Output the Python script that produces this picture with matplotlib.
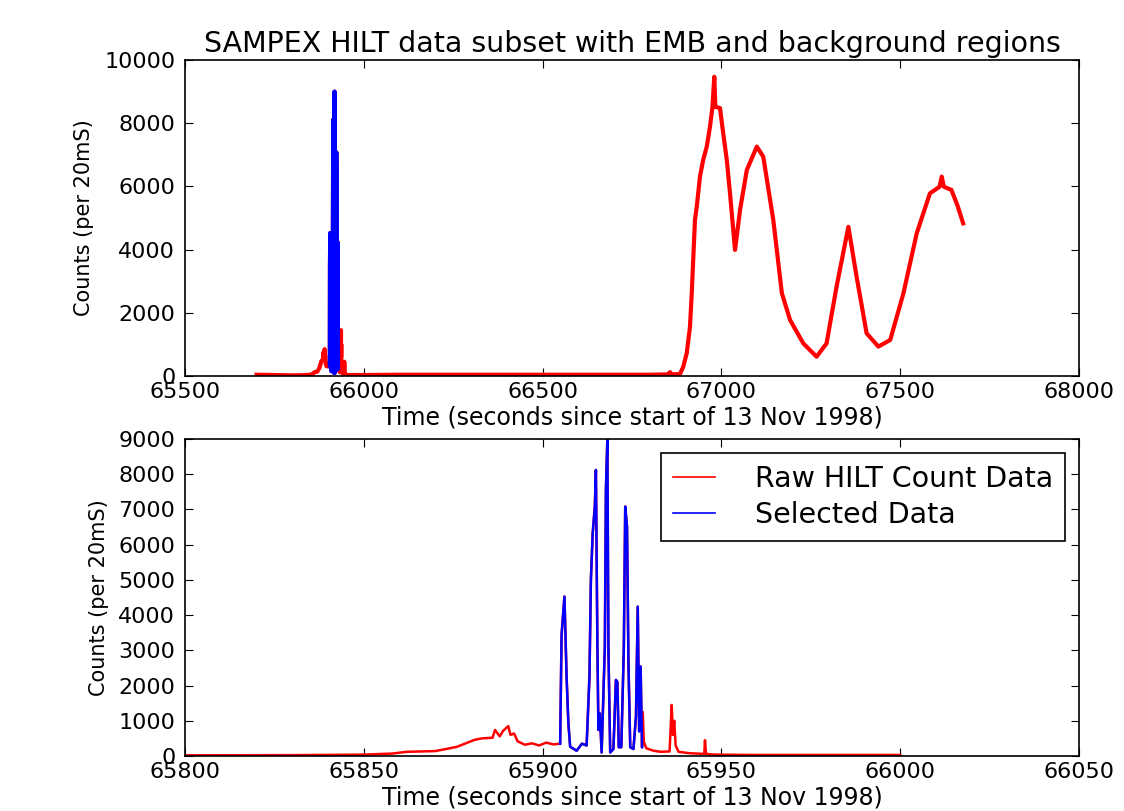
import numpy as np
import matplotlib
matplotlib.use('Agg')
import matplotlib.pyplot as plt

# raw HILT counts before the selected EMB window
pre_t = [65700, 65750, 65800, 65830, 65850, 65858, 65862, 65870, 65876, 65879,
         65881, 65883, 65886, 65886.7, 65888, 65889, 65890.4, 65891, 65892, 65893,
         65895, 65897, 65899, 65901, 65903, 65904.9]
pre_c = [40, 30, 20, 25, 40, 70, 120, 140, 260, 380,
         460, 500, 520, 740, 560, 720, 850, 600, 640, 420,
         320, 360, 300, 380, 330, 350]

# selected data (EMB region)
sel_t = [65904.9, 65905.3, 65906.1, 65906.7, 65907.2, 65907.7, 65909.5, 65911, 65912.3,
         65913.1, 65913.5, 65914.0, 65914.6, 65914.9, 65915.3, 65915.6, 65916.0, 65916.5,
         65917.4, 65917.7, 65918.1, 65918.4, 65918.9, 65919.8, 65920.5, 65920.9, 65921.3,
         65922.0, 65922.7, 65923.1, 65923.6, 65924.0, 65924.5, 65925.4, 65926.1, 65926.6,
         65927.0, 65927.4, 65927.8]
sel_c = [350, 3435, 4525, 2250, 930, 265, 150, 350, 300,
         2250, 5000, 6320, 7080, 8120, 3290, 740, 1210, 100,
         3100, 7550, 9000, 3010, 100, 200, 2160, 2100, 250,
         250, 3010, 7080, 6510, 2630, 250, 200, 1120, 4240,
         700, 2540, 250]

# raw HILT counts after the selected window
post_t = [65928.0, 65928.3, 65929, 65931, 65933, 65935.5, 65936.1, 65936.4, 65936.8,
          65937.2, 65938, 65941, 65945.2, 65945.4, 65945.7, 65948, 65960, 66000,
          66100, 66500, 66800, 66850, 66856, 66862, 66884,
          66893, 66903, 66912, 66917, 66921, 66926, 66931, 66940, 66949, 66959,
          66968, 66975, 66980, 66983, 66996, 67005, 67015, 67024, 67038, 67052,
          67071, 67099, 67117, 67145, 67169, 67192, 67229, 67266, 67294, 67322,
          67355, 67378, 67406, 67439, 67472, 67509, 67546, 67583, 67610, 67616,
          67622, 67643, 67660, 67676]
post_c = [1250, 400, 220, 150, 120, 130, 1450, 600, 1000,
          300, 120, 80, 60, 450, 60, 40, 30, 30,
          40, 40, 40, 50, 120, 50, 60,
          285, 720, 1550, 2620, 3670, 4940, 5360, 6310, 6840, 7260,
          7890, 8520, 9470, 8520, 8480, 7680, 6840, 5780, 3990, 5250,
          6520, 7260, 6940, 4940, 2620, 1770, 1030, 610, 1030, 2830,
          4720, 3140, 1350, 930, 1140, 2620, 4510, 5780, 5990, 6310,
          5990, 5890, 5400, 4830]

raw_t = np.array(pre_t + sel_t + post_t)
raw_c = np.array(pre_c + sel_c + post_c)
sel_t = np.array(sel_t)
sel_c = np.array(sel_c)

plt.rcParams['font.family'] = ['DejaVu Sans']
plt.rcParams['xtick.direction'] = 'in'
plt.rcParams['ytick.direction'] = 'in'
plt.rcParams['xtick.major.size'] = 6
plt.rcParams['ytick.major.size'] = 6

fig = plt.figure(figsize=(11.24, 8.11), dpi=100)
ax1 = fig.add_axes([0.1646, 0.5364, 0.7954, 0.3896])
ax2 = fig.add_axes([0.1646, 0.0678, 0.7954, 0.3909])

ax1.plot(raw_t, raw_c, color='red', lw=3)
ax1.plot(sel_t, sel_c, color='blue', lw=3)
ax1.set_xlim(65500, 68000)
ax1.set_ylim(0, 10000)
ax1.set_xticks(np.arange(65500, 68001, 500))
ax1.set_yticks(np.arange(0, 10001, 2000))
ax1.set_title('SAMPEX HILT data subset with EMB and background regions', fontsize=20.5, pad=6)
ax1.set_xlabel('Time (seconds since start of 13 Nov 1998)', fontsize=17, labelpad=3)
ax1.set_ylabel('Counts (per 20mS)', fontsize=15, labelpad=7)

mask = (raw_t >= 65800) & (raw_t <= 66000)
ax2.plot(raw_t[mask], raw_c[mask], color='red', lw=1.8, label='Raw HILT Count Data')
ax2.plot(sel_t, sel_c, color='blue', lw=1.8, label='Selected Data')
ax2.set_xlim(65800, 66050)
ax2.set_ylim(0, 9000)
ax2.set_xticks(np.arange(65800, 66051, 50))
ax2.set_yticks(np.arange(0, 9001, 1000))
ax2.set_xlabel('Time (seconds since start of 13 Nov 1998)', fontsize=17, labelpad=3)
ax2.set_ylabel('Counts (per 20mS)', fontsize=15, labelpad=7)
leg = ax2.legend(loc='upper right', fontsize=20.5, fancybox=False, framealpha=1,
                 edgecolor='black', borderaxespad=0.5, handlelength=1.5,
                 handletextpad=1.4, borderpad=0.4, labelspacing=0.3)
leg.get_frame().set_linewidth(1.2)
for h in leg.get_lines():
    h.set_linewidth(1.2)

for ax in (ax1, ax2):
    ax.tick_params(labelsize=16, top=True, right=True, pad=4)
    ax.tick_params(axis='y', pad=7)
    for s in ax.spines.values():
        s.set_linewidth(1.2)

fig.savefig('out.png', dpi=100)
